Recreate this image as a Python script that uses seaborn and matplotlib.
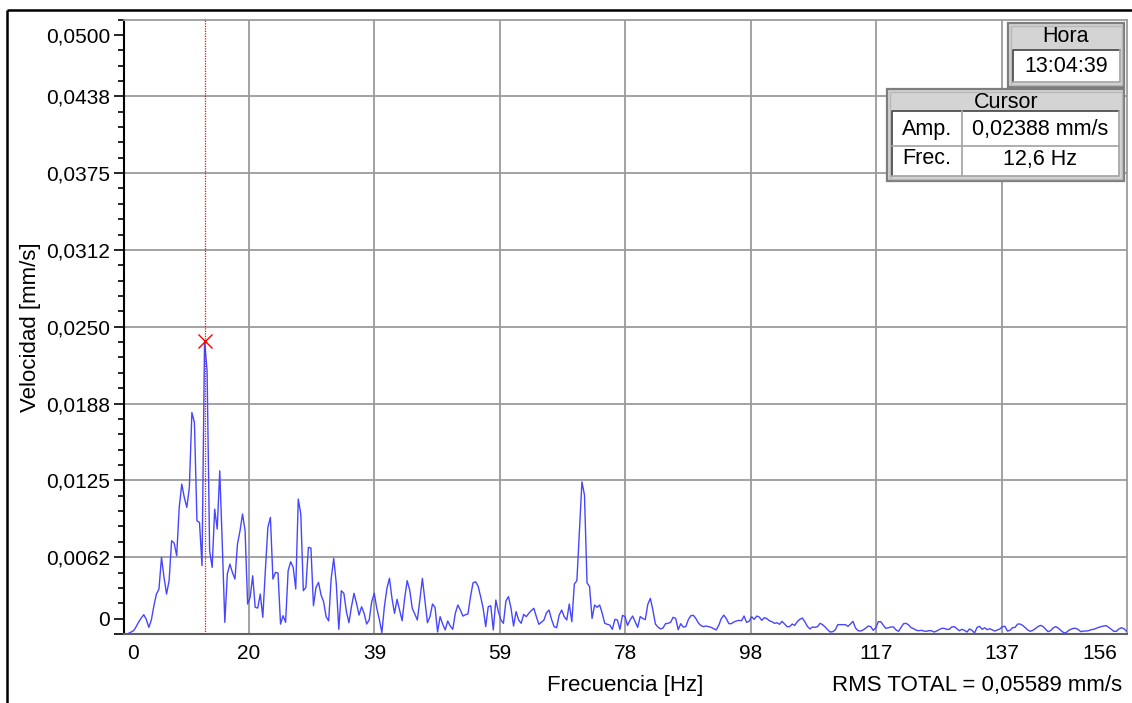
import matplotlib
matplotlib.use("Agg")
import matplotlib.pyplot as plt
import seaborn as sns
import numpy as np
import pandas as pd
from matplotlib.ticker import MultipleLocator, NullLocator
from matplotlib.patches import Rectangle

# ---------------- data ----------------
DF_HZ = 0.39375  # spectral line spacing

vel_0_30hz = [
    0, 0, 0.00005, 0.00016, 0.00027, 0.00060, 0.00098, 0.00130, 0.00157, 0.00119,
    0.00054, 0.00114, 0.00230, 0.00325, 0.00366, 0.00623, 0.00461, 0.00325, 0.00434, 0.00759,
    0.00740, 0.00637, 0.01030, 0.01220, 0.01111, 0.01030, 0.01192, 0.01802, 0.01721, 0.00921,
    0.00908, 0.00556, 0.02388, 0.02141, 0.00678, 0.00542, 0.01016, 0.00854, 0.01328, 0.00732,
    0.00095, 0.00488, 0.00569, 0.00501, 0.00447, 0.00732, 0.00840, 0.00976, 0.00840, 0.00244,
    0.00298, 0.00474, 0.00217, 0.00211, 0.00325, 0.00136, 0.00515, 0.00867, 0.00949, 0.00447,
    0.00501, 0.00496, 0.00081, 0.00149, 0.00095, 0.00515, 0.00588, 0.00542, 0.00366, 0.01098,
    0.00976, 0.00352, 0.00379, 0.00705, 0.00699, 0.00230, 0.00379, 0.00420,
]
vel_31_68hz = [
    0.00317, 0.00263, 0.00141, 0.00106, 0.00453, 0.00615, 0.00412, 0.00038, 0.00352, 0.00331,
    0.00182, 0.00092, 0.00222, 0.00331, 0.00249, 0.00154, 0.00222, 0.00168, 0.00081, 0.00114,
    0.00263, 0.00331, 0.00209, 0.00119, 0.00011, 0.00222, 0.00371, 0.00453, 0.00290, 0.00168,
    0.00282, 0.00195, 0.00108, 0.00290, 0.00434, 0.00358, 0.00209, 0.00163, 0.00114, 0.00276,
    0.00453, 0.00276, 0.00092, 0.00141, 0.00244, 0.00217, 0.00016, 0.00141, 0.00081, 0.00033,
    0.00106, 0.00065, 0.00038, 0.00168, 0.00236, 0.00195, 0.00146, 0.00157, 0.00163, 0.00304,
    0.00417, 0.00425, 0.00390, 0.00304, 0.00209, 0.00060, 0.00222, 0.00230, 0.00033, 0.00276,
    0.00182, 0.00114, 0.00087, 0.00271, 0.00304, 0.00209, 0.00065, 0.00182, 0.00114, 0.00087,
    0.00160, 0.00141, 0.00168, 0.00190, 0.00209, 0.00141, 0.00079, 0.00095, 0.00114, 0.00173,
    0.00195, 0.00119, 0.00060, 0.00051, 0.00154, 0.00195, 0.00141,
]
vel_69_111hz = [
    0.00114, 0.00244, 0.00100, 0.00407, 0.00434, 0.00832, 0.01238, 0.01130, 0.00417, 0.00385,
    0.00127, 0.00236, 0.00217, 0.00236, 0.00168, 0.00087, 0.00079, 0.00073, 0.00038, 0.00119,
    0.00114, 0.00038, 0.00152, 0.00141, 0.00070, 0.00114, 0.00146, 0.00100, 0.00054, 0.00141,
    0.00127, 0.00117, 0.00241, 0.00290, 0.00195, 0.00081, 0.00057, 0.00041, 0.00049, 0.00084,
    0.00087, 0.00095, 0.00136, 0.00127, 0.00035, 0.00084, 0.00057, 0.00060, 0.00117, 0.00149,
    0.00152, 0.00125, 0.00089, 0.00068, 0.00060, 0.00065, 0.00060, 0.00054, 0.00043, 0.00033,
    0.00070, 0.00125, 0.00154, 0.00125, 0.00084, 0.00084, 0.00098, 0.00106, 0.00111, 0.00108,
    0.00146, 0.00095, 0.00103, 0.00141, 0.00119, 0.00146, 0.00138, 0.00111, 0.00133, 0.00125,
    0.00108, 0.00100, 0.00087, 0.00092, 0.00079, 0.00103, 0.00081, 0.00060, 0.00060, 0.00081,
    0.00070, 0.00100, 0.00119, 0.00130, 0.00100, 0.00062, 0.00041, 0.00057, 0.00054, 0.00060,
    0.00087, 0.00076, 0.00057, 0.00035, 0.00016, 0.00019, 0.00033, 0.00076,
]
vel_111_156hz = [
    0.00076, 0.00076, 0.00076, 0.00062, 0.00081, 0.00103, 0.00049, 0.00027, 0.00024, 0.00033,
    0.00046, 0.00065, 0.00060, 0.00030, 0.00049, 0.00100, 0.00100, 0.00070, 0.00046, 0.00051,
    0.00057, 0.00057, 0.00033, 0.00022, 0.00054, 0.00084, 0.00087, 0.00073, 0.00051, 0.00043,
    0.00030, 0.00027, 0.00030, 0.00024, 0.00022, 0.00027, 0.00027, 0.00016, 0.00024, 0.00035,
    0.00046, 0.00046, 0.00038, 0.00038, 0.00057, 0.00060, 0.00043, 0.00027, 0.00038, 0.00030,
    0.00016, 0.00041, 0.00030, 0.00008, 0.00054, 0.00062, 0.00038, 0.00051, 0.00035, 0.00043,
    0.00033, 0.00024, 0.00033, 0.00041, 0.00060, 0.00062, 0.00024, 0.00030, 0.00051, 0.00054,
    0.00081, 0.00081, 0.00070, 0.00051, 0.00033, 0.00022, 0.00030, 0.00043, 0.00060, 0.00070,
    0.00062, 0.00041, 0.00019, 0.00027, 0.00049, 0.00060, 0.00049, 0.00030, 0.00014, 0.00008,
    0.00027, 0.00038, 0.00046, 0.00046, 0.00035, 0.00019, 0.00024, 0.00024, 0.00027, 0.00035,
    0.00038, 0.00046, 0.00054, 0.00060, 0.00065, 0.00068, 0.00054, 0.00038, 0.00022, 0.00022,
    0.00041, 0.00051, 0.00043, 0.00022,
]

velocity = vel_0_30hz + vel_31_68hz + vel_69_111hz + vel_111_156hz
frequency = np.arange(len(velocity)) * DF_HZ

x_tick_values = [1.5, 19.5, 39.0, 58.5, 78.0, 97.5, 117.0, 136.5, 151.8]
x_tick_labels = ["0", "20", "39", "59", "78", "98", "117", "137", "156"]
x_grid_values = [19.5, 39.0, 58.5, 78.0, 97.5, 117.0, 136.5]

y_tick_values = [0.0, 0.00125, 0.00625, 0.0125, 0.01875, 0.025, 0.03125, 0.0375, 0.04375, 0.04875]
y_tick_labels = ["", "0", "0,0062", "0,0125", "0,0188", "0,0250", "0,0312", "0,0375", "0,0438", "0,0500"]
y_grid_values = [0.00625, 0.0125, 0.01875, 0.025, 0.03125, 0.0375, 0.04375]

hora_text = "13:04:39"
rms_text = "RMS TOTAL = 0,05589 mm/s"

# ---------------- style ----------------
sns.set_theme(style="white")
plt.rcParams["font.family"] = ["Liberation Sans", "DejaVu Sans"]

W, H = 1132, 703
fig = plt.figure(figsize=(W / 100, H / 100), dpi=100)
fig.patch.set_facecolor("white")

ax_l, ax_r, ax_t, ax_b = 123.5, 1127, 19.5, 634
ax = fig.add_axes([ax_l / W, (H - ax_b) / H, (ax_r - ax_l) / W, (ax_b - ax_t) / H])
ax.set_facecolor("white")

df = pd.DataFrame({"Frecuencia": frequency, "Velocidad": velocity})
sns.lineplot(data=df, x="Frecuencia", y="Velocidad", ax=ax, color="#4646ff",
             linewidth=1.0, zorder=3)

ax.set_xlim(0, 156)
ax.set_ylim(0, 0.05)

grid_col = "#9b9b9b"
for gx in x_grid_values:
    ax.axvline(gx, color=grid_col, lw=1.3, zorder=1)
for gy in y_grid_values:
    ax.axhline(gy, color=grid_col, lw=1.3, zorder=1)

for s in ["top", "right"]:
    ax.spines[s].set_color(grid_col)
    ax.spines[s].set_linewidth(1.3)
ax.spines["left"].set_color("black")
ax.spines["left"].set_linewidth(1.5)
ax.spines["bottom"].set_color("#606060")
ax.spines["bottom"].set_linewidth(1.5)

ax.set_xticks(x_tick_values)
ax.set_xticklabels(x_tick_labels)
ax.xaxis.set_minor_locator(NullLocator())
ax.set_yticks(y_tick_values)
ax.set_yticklabels(y_tick_labels)
ax.yaxis.set_minor_locator(MultipleLocator(0.00125))
ax.tick_params(axis="x", which="both", length=0, pad=7, labelsize=15, colors="black")
ax.tick_params(axis="y", which="major", length=7.5, width=1.2, pad=2, labelsize=15,
               color="black", labelcolor="black", left=True)
ax.tick_params(axis="y", which="minor", length=4.5, width=1.2, color="black", left=True)

ax.set_xlabel("Frecuencia [Hz]", fontsize=16, color="black")
ax.set_ylabel("Velocidad [mm/s]", fontsize=16, color="black")
ax.xaxis.label.set_va("center")
ax.yaxis.label.set_va("center")
ax.xaxis.set_label_coords(0.5, (ax_b - 686) / (ax_b - ax_t))
ax.yaxis.set_label_coords((31 - ax_l) / (ax_r - ax_l), 0.5)

# cursor at the spectrum maximum
imax = int(np.argmax(velocity))
cur_f = frequency[imax]
cur_a = velocity[imax]
ax.axvline(cur_f, color="red", lw=0.9, ls=(0, (1, 1)), zorder=4)
ax.plot([cur_f], [cur_a], marker="x", color="red", ms=10, mew=1.0, zorder=5)

fig.text(1122 / W, 1 - 686 / H, rms_text, ha="right", va="center", fontsize=16, color="black")

# ---------------- overlay (frame + info boxes) ----------------
ov = fig.add_axes([0, 0, 1, 1], zorder=10)
ov.set_xlim(0, W)
ov.set_ylim(H, 0)
ov.axis("off")
ov.patch.set_alpha(0)

ov.plot([7, 7], [10, H + 5], color="black", lw=1.8, solid_capstyle="butt")
ov.plot([7, W + 5], [10, 10], color="black", lw=1.8, solid_capstyle="butt")


def panel(x0, y0, x1, y1):
    ov.add_patch(Rectangle((x0, y0), x1 - x0, y1 - y0, facecolor="#d4d4d4",
                           edgecolor="#7d7d7d", lw=1.6))
    ov.add_patch(Rectangle((x0 + 2.5, y0 + 2.5), x1 - x0 - 5, y1 - y0 - 5,
                           facecolor="none", edgecolor="#b8b8b8", lw=1.0))


def sunken(x0, y0, x1, y1):
    ov.add_patch(Rectangle((x0, y0), x1 - x0, y1 - y0, facecolor="white",
                           edgecolor="none"))
    ov.plot([x0, x0, x1], [y1, y0, y0], color="#505050", lw=1.3)
    ov.plot([x0, x1, x1], [y1, y1, y0], color="#a8a8a8", lw=1.3)


fs_box = 15.5
# Hora
panel(1008, 23, 1124, 87)
ov.text(1066, 37, "Hora", ha="center", va="center", fontsize=fs_box, color="black")
sunken(1013, 50, 1120, 82)
ov.text(1066, 66, hora_text, ha="center", va="center", fontsize=fs_box, color="black")

# Cursor
panel(887, 89, 1124, 181)
ov.text(1006, 102, "Cursor", ha="center", va="center", fontsize=fs_box, color="black")
sunken(892, 111, 1119, 176)
ov.plot([892, 1119], [146, 146], color="#a8a8a8", lw=1.3)
ov.plot([962, 962], [111, 176], color="#a8a8a8", lw=1.3)
amp_txt = f"{cur_a:.5f}".replace(".", ",") + " mm/s"
frq_txt = f"{cur_f:.1f}".replace(".", ",") + " Hz"
ov.text(927, 130, "Amp.", ha="center", va="center", fontsize=fs_box, color="black")
ov.text(1040, 130, amp_txt, ha="center", va="center", fontsize=fs_box, color="black")
ov.text(927, 159, "Frec.", ha="center", va="center", fontsize=fs_box, color="black")
ov.text(1040, 159, frq_txt, ha="center", va="center", fontsize=fs_box, color="black")

fig.savefig("out.png", dpi=100, facecolor="white")
